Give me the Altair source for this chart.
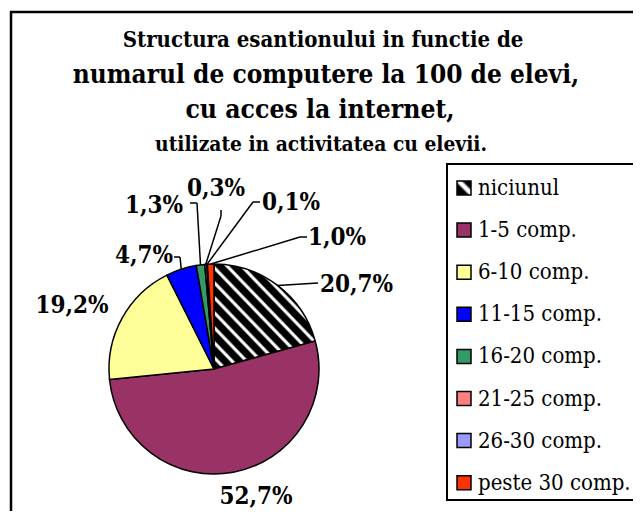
import math
import altair as alt
import pandas as pd

# ---- data ----
categories = ["niciunul", "1-5 comp.", "6-10 comp.", "11-15 comp.",
              "16-20 comp.", "21-25 comp.", "26-30 comp.", "peste 30 comp."]
values = [20.7, 52.7, 19.2, 4.7, 1.3, 0.3, 0.1, 1.0]
labels = ["20,7%", "52,7%", "19,2%", "4,7%", "1,3%", "0,3%", "0,1%", "1,0%"]
colors = ["#000000", "#993366", "#FFFF99", "#0000FF",
          "#339966", "#FF8080", "#9999FF", "#FF3300"]
title_lines = ["Structura esantionului in functie de",
               "numarul de computere la 100 de elevi,",
               "cu acces la internet,",
               "utilizate in activitatea cu elevii."]

# ---- layout (chart pixel coords) ----
W, H = 625, 503
CX, CY, R = 206, 361, 105
FONT = "'DejaVu Serif Condensed', 'DejaVu Serif', serif"

# label anchor positions (x, y, align) and leader elbows / ends
label_layout = [
    (312, 277, "left"),
    (248, 489, "center"),
    (64, 298, "center"),
    (165, 248, "right"),
    (175, 198, "right"),
    (208, 181, "center"),
    (254, 195, "left"),
    (300, 230, "left"),
]
leader_paths = {
    0: [(310, 275)],
    3: [(172, 249), (166, 249)],
    4: [(189, 195), (182, 195)],
    5: [(213, 208), (213, 202)],
    6: [(245, 194), (252, 194)],
    7: [(292, 229), (299, 229)],
}


def stripes(n, black=0.55, ramp=0.15):
    stops = []
    for k in range(n):
        b = k / n
        p = 1.0 / n
        stops += [
            {"offset": round(b, 5), "color": "#000000"},
            {"offset": round(b + black * p, 5), "color": "#000000"},
            {"offset": round(b + (black + ramp) * p, 5), "color": "#ffffff"},
            {"offset": round(b + (1 - ramp) * p, 5), "color": "#ffffff"},
            {"offset": round(b + p, 5) if k < n - 1 else 1.0, "color": "#000000"},
        ]
    return {"gradient": "linear", "x1": 0, "y1": 1, "x2": 1, "y2": 0,
            "stops": stops}


pie_grad = stripes(14)
legend_grad = {"gradient": "linear", "x1": 0, "y1": 1, "x2": 1, "y2": 0,
               "stops": [{"offset": 0, "color": "#000000"},
                         {"offset": 0.38, "color": "#000000"},
                         {"offset": 0.5, "color": "#ffffff"},
                         {"offset": 0.62, "color": "#ffffff"},
                         {"offset": 0.74, "color": "#000000"},
                         {"offset": 1, "color": "#000000"}]}

df = pd.DataFrame({"cat": categories, "val": values, "lab": labels,
                   "idx": list(range(len(categories)))})

# mid-angle points on the arc for leader starts
cum = 0.0
total = sum(values)
rows = []
for i, v in enumerate(values):
    mid = (cum + v / 2) / total * 2 * math.pi
    cum += v
    if i in leader_paths:
        pts = [(CX + R * math.sin(mid), CY - R * math.cos(mid))] + leader_paths[i]
        for a, b in zip(pts[:-1], pts[1:]):
            rows.append({"x": a[0], "y": a[1], "x2": b[0], "y2": b[1]})
seg_df = pd.DataFrame(rows)

lab_df = pd.DataFrame({
    "lab": labels,
    "lx": [p[0] for p in label_layout],
    "ly": [p[1] for p in label_layout],
    "al": [p[2] for p in label_layout],
})

one = pd.DataFrame({"a": [0]})

frame = alt.Chart(one).mark_rect(fillOpacity=0, stroke="black", strokeWidth=2.5).encode(
    x=alt.value(3), x2=alt.value(700), y=alt.value(4), y2=alt.value(700))

pie = alt.Chart(df).mark_arc(outerRadius=R, stroke="black", strokeWidth=1.5).encode(
    theta=alt.Theta("val:Q", stack=True),
    order=alt.Order("idx:Q"),
    color=alt.condition(
        alt.datum.cat == "niciunul",
        alt.value(pie_grad),
        alt.Color("cat:N", scale=alt.Scale(domain=categories, range=colors), legend=None),
    ),
    x=alt.value(CX), y=alt.value(CY),
)

leaders = alt.Chart(seg_df).mark_rule(color="black", strokeWidth=1.5).encode(
    x=alt.X("x:Q", scale=None), y=alt.Y("y:Q", scale=None),
    x2="x2:Q", y2="y2:Q")

label_layers = []
for al in ["left", "center", "right"]:
    sub = lab_df[lab_df["al"] == al]
    label_layers.append(
        alt.Chart(sub).mark_text(font=FONT, fontWeight="bold", fontSize=24,
                                 align=al, baseline="middle", color="black").encode(
            x=alt.X("lx:Q", scale=None), y=alt.Y("ly:Q", scale=None), text="lab:N"))

title_specs = [(22, 315, 32), (26, 318, 67), (26.3, 312, 102), (20.8, 313, 137)]
title_layers = []
for line, (fs, tx, ty) in zip(title_lines, title_specs):
    title_layers.append(
        alt.Chart(pd.DataFrame({"t": [line]})).mark_text(
            font=FONT, fontWeight="bold", fontSize=fs, align="center",
            baseline="middle", color="black").encode(
            text="t:N", x=alt.value(tx), y=alt.value(ty)))

leg_df = pd.DataFrame({"cat": categories, "idx": list(range(len(categories)))})
leg_df["ly"] = 180 + leg_df["idx"] * 42.1

leg_box = alt.Chart(one).mark_rect(fillOpacity=0, stroke="black", strokeWidth=2).encode(
    x=alt.value(439), x2=alt.value(660), y=alt.value(156), y2=alt.value(492))

leg_sym = alt.Chart(leg_df).mark_point(shape="square", size=196, filled=True,
                                       stroke="black", strokeWidth=1.5, opacity=1).encode(
    x=alt.value(456), y=alt.Y("ly:Q", scale=None),
    color=alt.condition(
        alt.datum.cat == "niciunul",
        alt.value(legend_grad),
        alt.Color("cat:N", scale=alt.Scale(domain=categories, range=colors), legend=None),
    ),
)

leg_txt = alt.Chart(leg_df).mark_text(font=FONT, fontSize=22, align="left",
                                      baseline="middle", color="black").encode(
    x=alt.value(470), y=alt.Y("ly:Q", scale=None), text="cat:N")

chart = alt.layer(frame, pie, leaders, *label_layers, *title_layers,
                  leg_box, leg_sym, leg_txt).properties(
    width=W, height=H, autosize=alt.AutoSizeParams(type="none"), padding=0,
    background="white",
).configure_view(strokeWidth=0)

chart.save("out.html", embed_options={"renderer": "svg", "actions": False})
